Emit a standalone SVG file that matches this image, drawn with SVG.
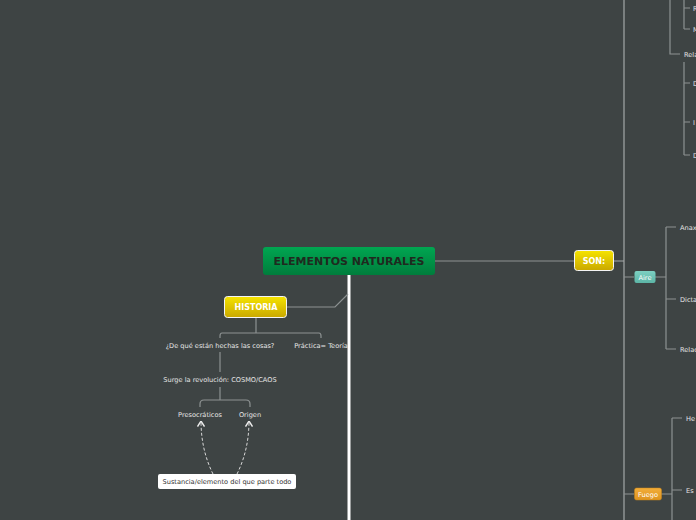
<svg xmlns="http://www.w3.org/2000/svg" width="696" height="520" viewBox="0 0 696 520">
<defs>
<linearGradient id="gGreen" x1="0" y1="0" x2="0" y2="1"><stop offset="0" stop-color="#00a651"/><stop offset="1" stop-color="#007d3c"/></linearGradient>
<linearGradient id="gYellow" x1="0" y1="0" x2="0" y2="1"><stop offset="0" stop-color="#f6e400"/><stop offset="1" stop-color="#c9a800"/></linearGradient>
<linearGradient id="gTeal" x1="0" y1="0" x2="0" y2="1"><stop offset="0" stop-color="#7dd0c2"/><stop offset="1" stop-color="#5cb5a6"/></linearGradient>
<linearGradient id="gOrange" x1="0" y1="0" x2="0" y2="1"><stop offset="0" stop-color="#f2ad3a"/><stop offset="1" stop-color="#de9420"/></linearGradient>
<marker id="arr" viewBox="0 0 6 8" refX="5.5" refY="4" markerWidth="6" markerHeight="8" orient="auto" markerUnits="userSpaceOnUse"><path d="M0,0.5 L5.5,4 L0,7.5" fill="none" stroke="#ececec" stroke-width="1.4"/></marker>
</defs>
<style>
.ln{fill:none;stroke:#8d9292;stroke-width:1.2}
.lt{fill:none;stroke:#a3a7a7;stroke-width:1.2}
.dash{fill:none;stroke:#d8d8d8;stroke-width:1;stroke-dasharray:3,2}
.t{font-family:"DejaVu Sans",Verdana,sans-serif;font-size:6.6px;fill:#e6e6e6}
.tb{font-family:"DejaVu Sans",Verdana,sans-serif;font-weight:bold;fill:#ffffff;text-anchor:middle}
</style>
<rect width="696" height="520" fill="#3e4444"/>
<g id="connectors">
<line x1="349" y1="275" x2="349" y2="520" stroke="#ffffff" stroke-width="3"/>
<path class="ln" d="M287,307 H335 L348,294"/>
<path class="ln" d="M435,261 H574"/>
<path class="ln" d="M256,318 V333 M222,333 H319 M222,333 Q220,333 220,336 V338 M319,333 Q321,333 321,336 V338"/>
<path class="ln" d="M220,352 V372"/>
<path class="ln" d="M220,387 V400 M204,400 H246 M204,400 Q200,400 200,404 V407 M246,400 Q250,400 250,404 V407"/>
<path class="dash" d="M213,474 C205,458 201,440 201,421" marker-end="url(#arr)"/>
<path class="dash" d="M237,474 C245,458 249,440 249,421" marker-end="url(#arr)"/>
<path class="lt" d="M613,261 H624 M624,0 V520"/>
<path class="ln" d="M624,277 H634 M655,277 H666 M666,227 V349 M666,227 H676 M666,299 H676 M666,349 H676"/>
<path class="ln" d="M624,494 H634 M661,494 H672 M672,418 V520 M672,418 H682 M672,490 H682"/>
<path class="ln" d="M670,0 V54 H680 M684,0 V29 M684,8 H690 M684,29 H690 M684,62 V155 M684,83 H690 M684,122 H690 M684,155 H690"/>
</g>
<g id="n-central">
<rect x="263" y="247" width="172" height="28" rx="3" fill="url(#gGreen)"/>
<text x="349" y="265" font-family="'DejaVu Sans',Verdana,sans-serif" font-weight="bold" font-size="11" fill="#1f2a1f" text-anchor="middle">ELEMENTOS NATURALES</text>
</g>
<g id="n-historia">
<rect x="224.5" y="296.5" width="62" height="21" rx="3" fill="url(#gYellow)" stroke="#f4f4f4" stroke-width="1"/>
<text class="tb" x="256" y="310" font-size="8">HISTORIA</text>
</g>
<g id="n-dequé"><text class="t" x="220" y="347.5" text-anchor="middle">¿De qué están hechas las cosas?</text></g>
<g id="n-practica"><text class="t" x="321" y="347.5" text-anchor="middle">Práctica= Teoría</text></g>
<g id="n-surge"><text class="t" x="220" y="381.5" text-anchor="middle">Surge la revolución: COSMO/CAOS</text></g>
<g id="n-presocraticos"><text class="t" x="200" y="416.5" text-anchor="middle">Presocráticos</text></g>
<g id="n-origen"><text class="t" x="250" y="416.5" text-anchor="middle">Origen</text></g>
<g id="n-sustancia">
<rect x="158" y="474" width="138" height="15" rx="2" fill="#ffffff"/>
<text x="227" y="484" font-family="'DejaVu Sans',Verdana,sans-serif" font-size="6.6" fill="#333333" text-anchor="middle">Sustancia/elemento del que parte todo</text>
</g>
<g id="n-son">
<rect x="574.5" y="250.5" width="39" height="20" rx="3" fill="url(#gYellow)" stroke="#f4f4f4" stroke-width="1"/>
<text class="tb" x="594" y="264" font-size="8">SON:</text>
</g>
<g id="n-aire">
<rect x="634.5" y="271" width="21" height="12" rx="2" fill="url(#gTeal)"/>
<text x="645" y="279.5" font-family="'DejaVu Sans',Verdana,sans-serif" font-size="6.6" fill="#ffffff" text-anchor="middle">Aire</text>
</g>
<g id="n-fuego">
<rect x="634.5" y="488" width="27" height="12" rx="2" fill="url(#gOrange)" stroke="#c98418" stroke-width="0.5"/>
<text x="648" y="496.5" font-family="'DejaVu Sans',Verdana,sans-serif" font-size="6.6" fill="#ffffff" text-anchor="middle">Fuego</text>
</g>
<g id="n-anax"><text class="t" x="680" y="229.5">Anax</text></g>
<g id="n-dicta"><text class="t" x="680" y="301.5">Dicta</text></g>
<g id="n-relac"><text class="t" x="680" y="351.5">Relac</text></g>
<g id="n-he"><text class="t" x="686" y="420.5">He</text></g>
<g id="n-es"><text class="t" x="686" y="492.5">Es</text></g>
<g id="n-rela"><text class="t" x="684" y="56.5">Rela</text></g>
<g id="n-r"><text class="t" x="693" y="10.5">R</text></g>
<g id="n-m"><text class="t" x="693" y="31.5">M</text></g>
<g id="n-d1"><text class="t" x="693" y="85.5">D</text></g>
<g id="n-i"><text class="t" x="693" y="124.5">I</text></g>
<g id="n-d2"><text class="t" x="693" y="157.5">D</text></g>
</svg>
